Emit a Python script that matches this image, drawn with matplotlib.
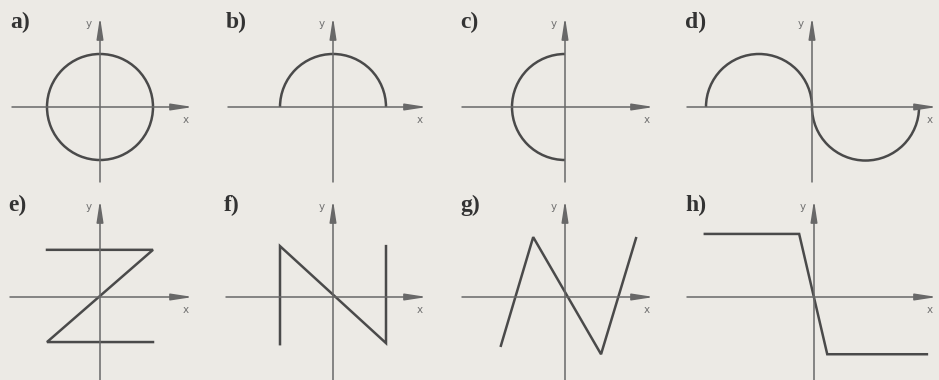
import matplotlib.pyplot as plt
from matplotlib.patches import Arc

W, H = 939, 380
U = 53.0  # pixels per unit

BG = '#eceae5'
INK = '#4a4a4a'
AXC = '#686868'

labels = ['a)', 'b)', 'c)', 'd)', 'e)', 'f)', 'g)', 'h)']

# arcs: (center x, center y, radius, theta1, theta2)
arcs_a = [(0, 0, 1.0, 0, 360)]
arcs_b = [(0, 0, 1.0, 0, 180)]
arcs_c = [(0, 0, 1.0, 90, 270)]
arcs_d = [(-1.0, 0, 1.0, 0, 180), (1.01, 0, 1.01, 180, 360)]

# polylines
e_x = [-1.0, 1.0, -1.0, 1.0]
e_y = [0.89, 0.89, -0.85, -0.85]
f_x = [-1.0, -1.0, 1.0, 1.0]
f_y = [-0.89, 0.96, -0.87, 0.96]
g_x = [-1.21, -0.60, 0.68, 1.34]
g_y = [-0.92, 1.13, -1.08, 1.11]
h_x = [-2.06, -0.28, 0.25, 2.13]
h_y = [1.19, 1.19, -1.08, -1.08]

# panel frame in pixels: x-axis left, x-axis tip, y-axis x, x-axis y, y tip, y bottom
frames = [
    (12, 193, 100, 107, 17, 182),
    (228, 427, 333, 107, 17, 182),
    (462, 654, 565, 107, 17, 182),
    (687, 937, 812, 107, 17, 182),
    (10, 193, 100, 297, 200, 381),
    (226, 427, 333, 297, 200, 381),
    (462, 654, 565, 297, 200, 381),
    (687, 937, 814, 297, 200, 381),
]

fig = plt.figure(figsize=(W / 100, H / 100), dpi=100, facecolor=BG)

curves = [arcs_a, arcs_b, arcs_c, arcs_d,
          (e_x, e_y), (f_x, f_y), (g_x, g_y), (h_x, h_y)]

for i, (x0, x1, cx, cy, y0, y1) in enumerate(frames):
    ax = fig.add_axes([x0 / W, (H - y1) / H, (x1 - x0) / W, (y1 - y0) / H])
    ax.set_xlim((x0 - cx) / U, (x1 - cx) / U)
    ax.set_ylim((cy - y1) / U, (cy - y0) / U)
    ax.axis('off')
    ax.patch.set_alpha(0)
    xmin, xmax = ax.get_xlim()
    ymin, ymax = ax.get_ylim()

    ap = dict(arrowstyle='-|>,head_length=1.3,head_width=0.2', mutation_scale=10,
              color=AXC, lw=1.1, shrinkA=0, shrinkB=0)
    ax.annotate('', xy=(xmax, 0), xytext=(xmin, 0), arrowprops=ap, annotation_clip=False)
    ax.annotate('', xy=(0, ymax), xytext=(0, ymin), arrowprops=ap, annotation_clip=False)

    c = curves[i]
    if i < 4:
        for (ax_, ay_, r, t1, t2) in c:
            ax.add_patch(Arc((ax_, ay_), 2 * r, 2 * r, theta1=t1, theta2=t2,
                             color=INK, lw=1.8))
    else:
        ax.plot(c[0], c[1], color=INK, lw=1.8, solid_joinstyle='miter')

    ax.annotate('x', xy=(xmax, 0), xytext=(-7, -13), textcoords='offset pixels',
                ha='center', va='center', fontsize=7.5, color='#707070', family='DejaVu Sans')
    ax.annotate('y', xy=(0, ymax), xytext=(-11, -7), textcoords='offset pixels',
                ha='center', va='center', fontsize=7.5, color='#707070', family='DejaVu Sans')

    fig.text((x0 - 2) / W, 1 - (y0 + 5) / H, labels[i], ha='left', va='center',
             fontsize=17, fontweight='bold', family='Liberation Serif', color='#333333')

fig.savefig('out.png', dpi=100, facecolor=BG)
